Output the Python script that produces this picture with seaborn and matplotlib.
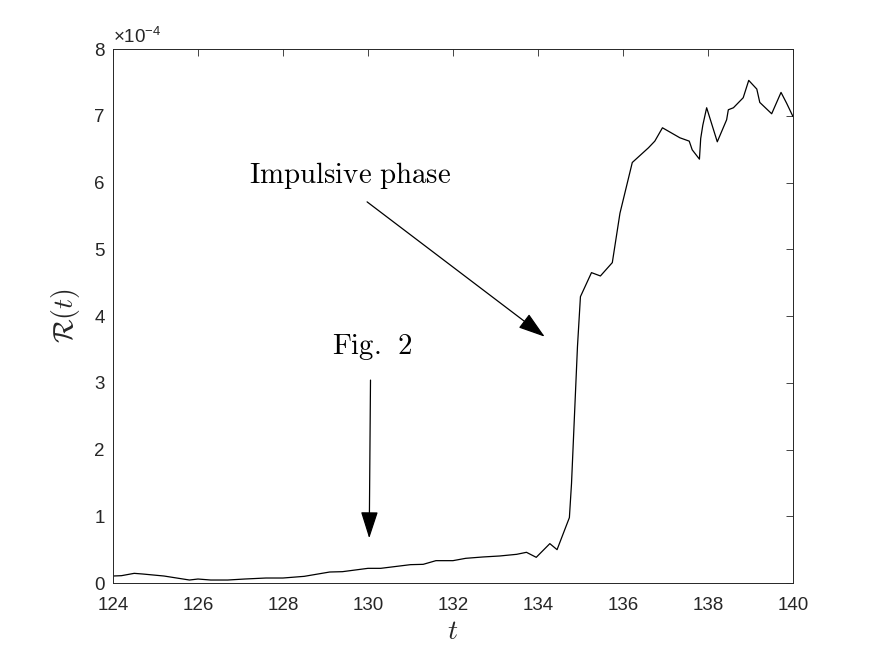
import matplotlib
matplotlib.use("Agg")
import matplotlib.pyplot as plt
import seaborn as sns
import numpy as np
import pandas as pd

# ---- data (R in units of 1e-4) ----
t_vals = [124.0, 124.2, 124.5, 124.7, 125.2, 125.8, 126.0, 126.3, 126.7, 127.1,
          127.6, 128.0, 128.5, 129.1, 129.4, 130.0, 130.3, 131.0, 131.3, 131.6,
          132.0, 132.3, 132.7, 133.1, 133.5, 133.73, 133.96, 134.28, 134.45, 134.74,
          134.79, 134.93, 135.0, 135.26, 135.47, 135.75, 135.93, 136.22, 136.6, 136.75,
          136.93, 137.34, 137.56, 137.63, 137.8, 137.83, 137.88, 137.97, 138.22, 138.44,
          138.48, 138.6, 138.83, 138.96, 139.15, 139.22, 139.5, 139.72, 139.85, 140.0]
R_vals = [0.105, 0.11, 0.145, 0.135, 0.105, 0.045, 0.06, 0.045, 0.045, 0.06,
          0.075, 0.075, 0.10, 0.165, 0.17, 0.22, 0.22, 0.275, 0.28, 0.335,
          0.335, 0.37, 0.39, 0.405, 0.43, 0.46, 0.385, 0.59, 0.50, 0.98,
          1.49, 3.54, 4.29, 4.65, 4.60, 4.80, 5.54, 6.30, 6.52, 6.62,
          6.82, 6.67, 6.62, 6.49, 6.35, 6.66, 6.86, 7.12, 6.61, 6.94,
          7.09, 7.12, 7.27, 7.53, 7.40, 7.20, 7.03, 7.35, 7.19, 6.99]
x_ticks = [124, 126, 128, 130, 132, 134, 136, 138, 140]
y_ticks = [0, 1, 2, 3, 4, 5, 6, 7, 8]
exponent_label = "×10$^{-4}$"
ann_impulsive = dict(text=r"$\mathrm{Impulsive\ phase}$", text_xy=(129.58, 5.99),
                     tail=(129.98, 5.71), tip=(134.16, 3.69))
ann_fig2 = dict(text=r"$\mathrm{Fig.\;\,2}$", text_xy=(130.11, 3.43),
                tail=(130.06, 3.04), tip=(130.03, 0.67))

df = pd.DataFrame({"t": t_vals, "R": R_vals})

sns.set_theme(style="white")
plt.rcParams["font.family"] = ["Liberation Sans", "DejaVu Sans"]
plt.rcParams["mathtext.fontset"] = "custom"
plt.rcParams["mathtext.rm"] = "Liberation Sans"
plt.rcParams["mathtext.it"] = "Liberation Sans:italic"

fig = plt.figure(figsize=(8.75, 6.57), dpi=100)
fig.patch.set_facecolor("white")
ax = fig.add_axes([0.1291, 0.1126, 0.7771, 0.8128])

sns.lineplot(data=df, x="t", y="R", ax=ax, color="black", linewidth=0.9,
             estimator=None, sort=False)

axc = "#262626"
ax.set_xlim(124, 140)
ax.set_ylim(0, 8)
ax.set_xticks(x_ticks)
ax.set_yticks(y_ticks)
ax.set_xticklabels([str(v) for v in x_ticks])
ax.set_yticklabels([str(v) for v in y_ticks])
ax.tick_params(direction="in", length=5, width=0.6, top=True, right=True,
               colors=axc, labelsize=13.5, pad=6)
ax.tick_params(axis="x", pad=10)
for s in ax.spines.values():
    s.set_visible(True)
    s.set_color(axc)
    s.set_linewidth(0.7)

ax.set_xlabel(r"$t$", fontsize=20, math_fontfamily="cm", color=axc, labelpad=4)
ax.set_ylabel(r"$\mathcal{R}(t)$", fontsize=20, math_fontfamily="cm", color=axc,
              labelpad=9)

ax.text(0.0, 1.004, exponent_label, transform=ax.transAxes, ha="left", va="bottom",
        fontsize=13.5, color=axc)

for ann in (ann_impulsive, ann_fig2):
    ax.text(ann["text_xy"][0], ann["text_xy"][1], ann["text"], ha="center",
            va="baseline", fontsize=20.8, math_fontfamily="cm", color="black")
    ax.annotate("", xy=ann["tip"], xytext=ann["tail"],
                arrowprops=dict(arrowstyle="-|>,head_length=1.4,head_width=0.45",
                                color="black", lw=0.9, shrinkA=0, shrinkB=0))

ax.grid(False)
fig.savefig("out.png", dpi=100, facecolor="white")
